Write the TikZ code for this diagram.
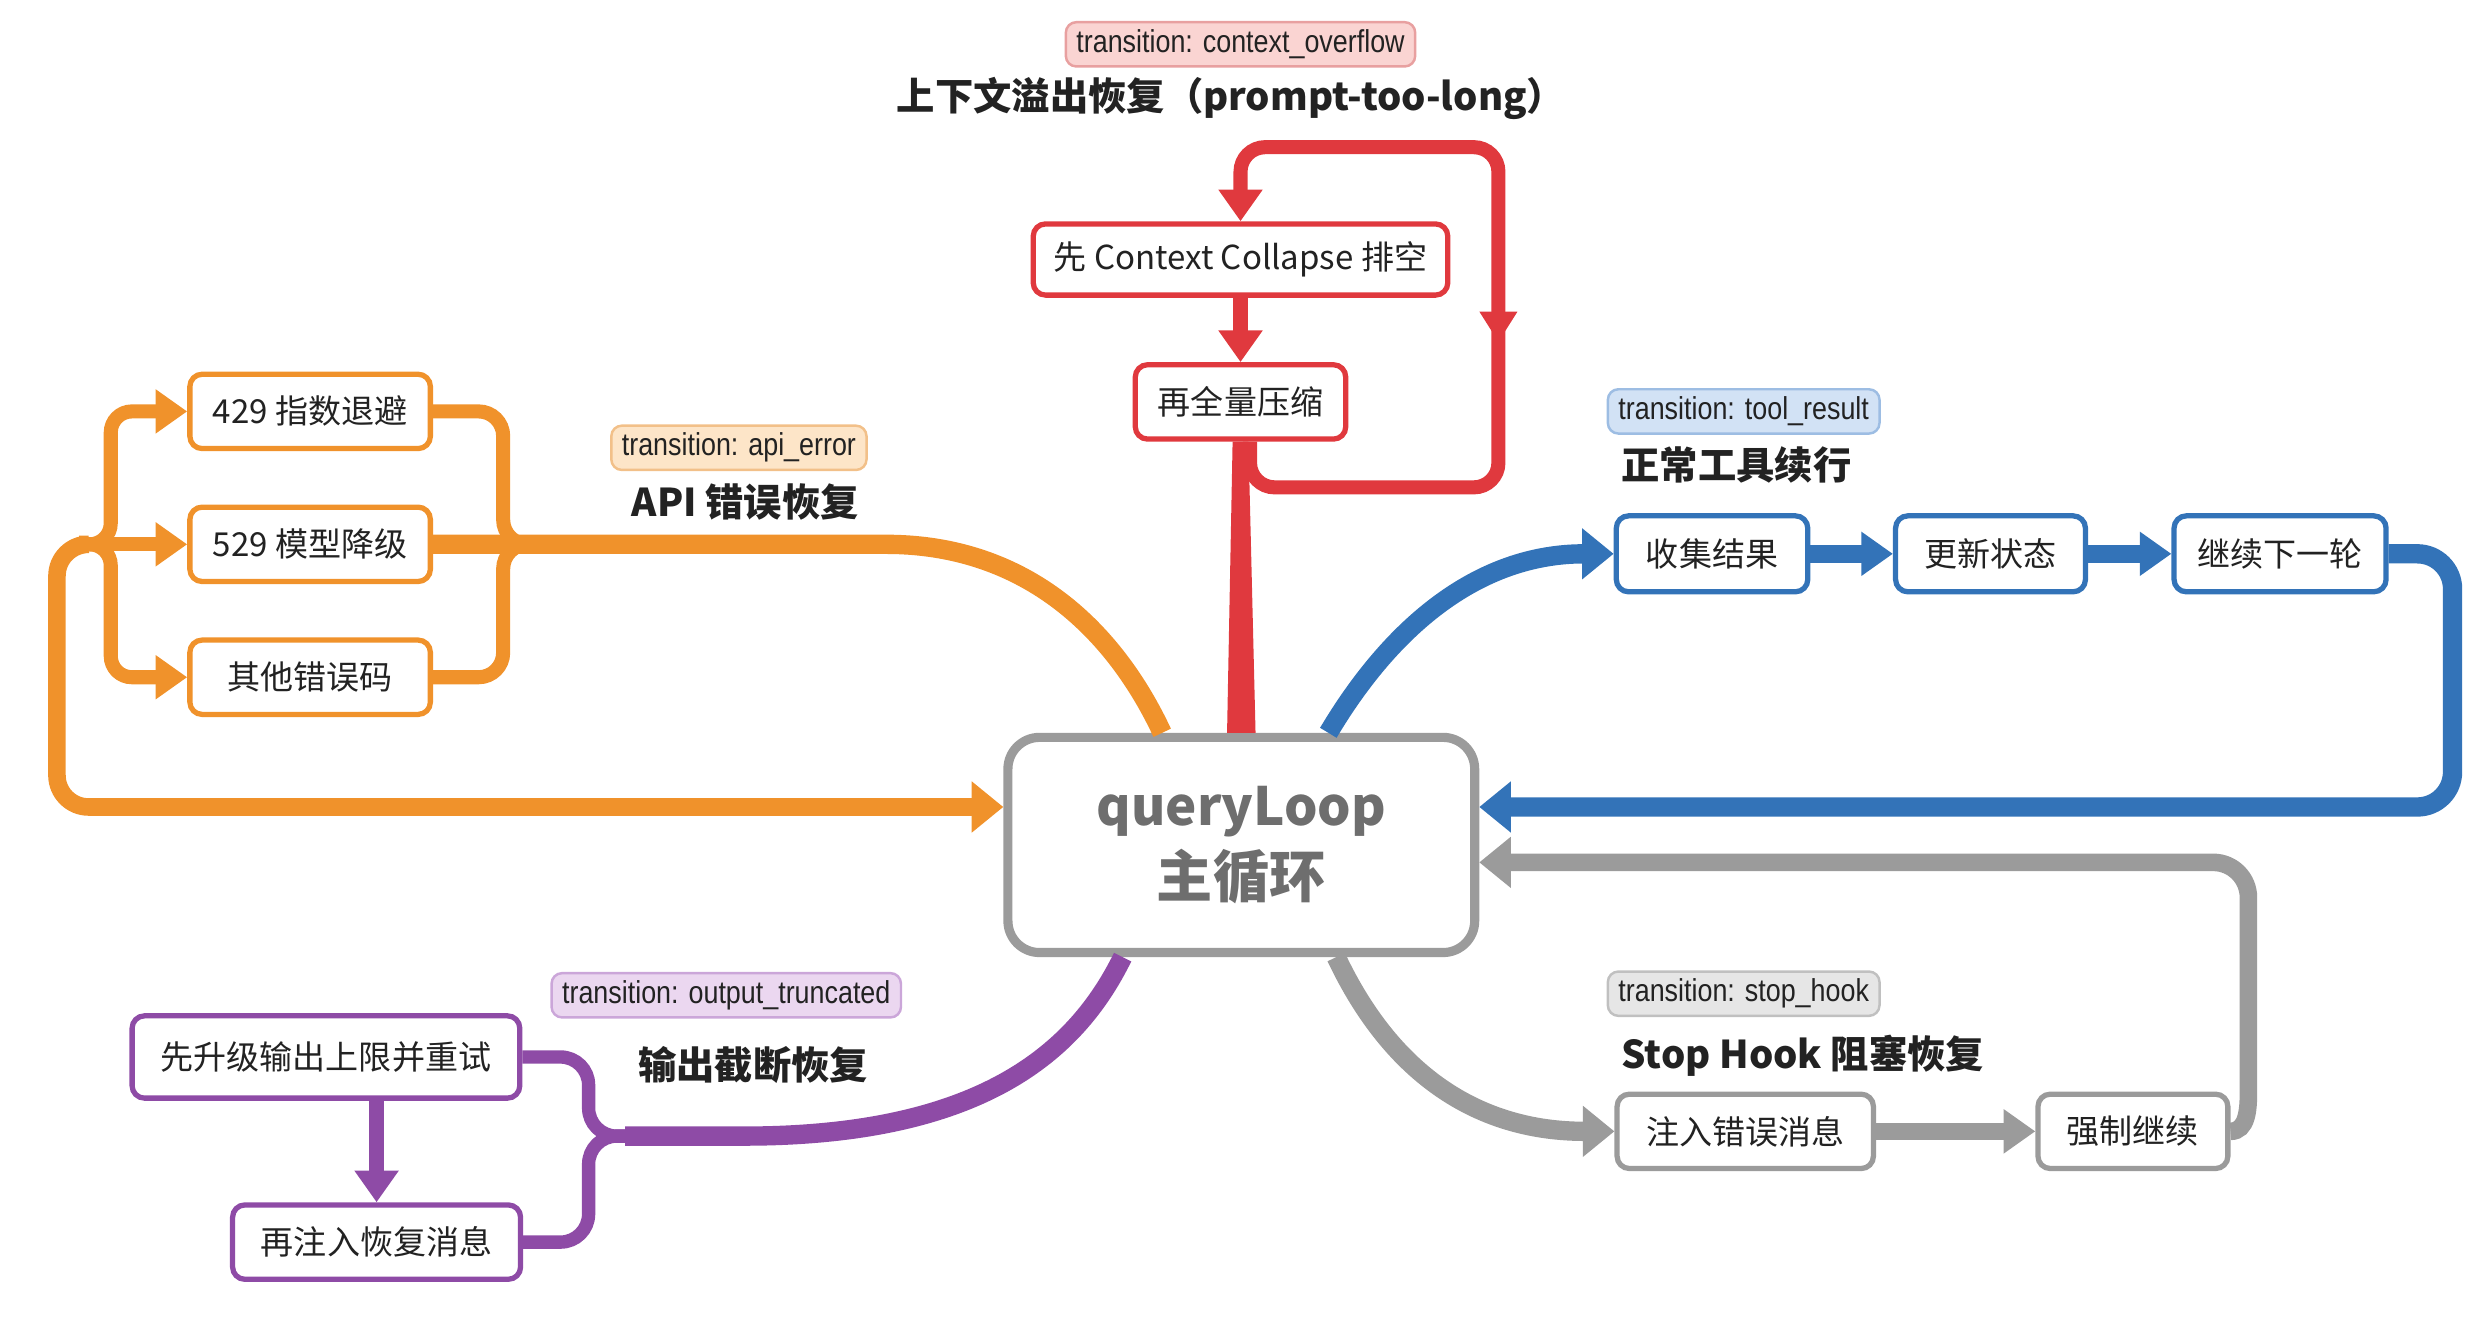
\documentclass[tikz,border=0pt]{standalone}
\usepackage{fontspec}
\setmainfont{Noto Sans CJK SC}
\newfontfamily\tagfont[FakeStretch=0.85]{Liberation Sans}
\usetikzlibrary{arrows.meta,calc}
\definecolor{txt}{HTML}{222222}
\definecolor{ctrtxt}{HTML}{6E6E6E}
\definecolor{cRed}{HTML}{E0393E}
\definecolor{cOrange}{HTML}{F0922B}
\definecolor{cBlue}{HTML}{3373B8}
\definecolor{cGray}{HTML}{9B9B9B}
\definecolor{cPurple}{HTML}{8E4BA6}
\definecolor{rTag}{HTML}{FAD4D2}\definecolor{rTagD}{HTML}{E8A0A0}
\definecolor{oTag}{HTML}{FDE5C8}\definecolor{oTagD}{HTML}{F2C089}
\definecolor{bTag}{HTML}{D2E2F5}\definecolor{bTagD}{HTML}{9DBDE3}
\definecolor{gTag}{HTML}{E6E6E6}\definecolor{gTagD}{HTML}{C0C0C0}
\definecolor{pTag}{HTML}{EBD7F0}\definecolor{pTagD}{HTML}{CBA6D9}
\def\unitpx{0.015823cm}
\begin{document}
\begin{tikzpicture}[x=\unitpx,y=-\unitpx,
  box/.style={draw=#1,fill=white,line width=1.5pt,rounded corners=3.5pt,
    inner sep=0pt,minimum height=47*\unitpx,text=txt,
    font=\fontsize{9.4}{11}\selectfont},
  tagbox/.style 2 args={draw=#1,fill=#2,line width=.7pt,rounded corners=3pt,
    inner xsep=3pt,inner ysep=0pt,minimum height=28*\unitpx,text=txt,
    font=\tagfont\fontsize{9}{10}\selectfont},
  ttl/.style={text=txt,font=\bfseries\fontsize{10.9}{13}\selectfont},
  br/.style={draw=#1,line width=5.5pt},
  arr/.style={-{Triangle[length=9pt,width=12pt]}},
  bigarr/.style={-{Triangle[length=9pt,width=14pt]}}]
\useasboundingbox (0,0) rectangle (1568,846);
% queryLoop
\node[draw=cGray,fill=white,line width=2.6pt,rounded corners=9pt,
  minimum width=295*\unitpx,minimum height=136*\unitpx,align=center,
  text=ctrtxt,font=\bfseries\fontsize{16}{20.5}\selectfont]
  (ctr) at (784.5,534) {{\fontsize{15}{20.5}\selectfont queryLoop}\\主循环};
% context_overflow
\node[tagbox={rTagD}{rTag}] (rtag) at (784,28) {transition: context\_overflow};
\node[ttl] (rttl) at (778,62) {上下文溢出恢复（prompt-too-long）};
\node[box=cRed,minimum width=262*\unitpx,minimum height=45*\unitpx] (rcc) at (784,164) {先 Context Collapse 排空};
\node[box=cRed,minimum width=133*\unitpx] (rzip) at (784,254) {再全量压缩};
\fill[cRed] ([xshift=-9*\unitpx]ctr.north) -- ([xshift=9*\unitpx]ctr.north)
  -- ([xshift=5*\unitpx]rzip.south) -- ([xshift=-5*\unitpx]rzip.south) -- cycle;
\draw[br=cRed,line width=4.5pt,arr] (rcc) -- (rzip);
\draw[br=cRed,line width=4pt,rounded corners=7pt,arr] ([xshift=6*\unitpx]rzip.south)
  |- (947,308) -- (947,93) -| (rcc.north);
\fill[cRed] (935,197) -- (959,197) -- (947,216) -- cycle;
% api_error
\node[tagbox={oTagD}{oTag}] (otag) at (467,283) {transition: api\_error};
\node[ttl] (ottl) at (471,317) {API 错误恢复};
\node[box=cOrange,minimum width=152*\unitpx] (o429) at (196,260) {429 指数退避};
\node[box=cOrange,minimum width=152*\unitpx] (o529) at (196,344) {529 模型降级};
\node[box=cOrange,minimum width=152*\unitpx] (oerr) at (196,428) {其他错误码};
\coordinate (omerge) at (345,344);
\coordinate (osplit) at (50,344);
\draw[br=cOrange] (o529.east) -- (560,344) .. controls (650,344) and (705,400) .. ($(ctr.north)+(-50,0)$);
\draw[br=cOrange,line width=4pt,rounded corners=7pt] (o429.east) -| (318,344) -- (omerge);
\draw[br=cOrange,line width=4pt,rounded corners=7pt] (oerr.east) -| (318,344) -- (omerge);
\draw[br=cOrange,line width=4pt,arr] (osplit) -- (o529.west);
\draw[br=cOrange,line width=4pt,rounded corners=6pt,arr] (osplit) -| (70,300) |- (o429.west);
\draw[br=cOrange,line width=4pt,rounded corners=6pt,arr] (osplit) -| (70,390) |- (oerr.west);
\draw[br=cOrange,line width=5pt,rounded corners=9pt,bigarr] (osplit) -| (36,420) |- ($(ctr.west)+(0,-24)$);
% tool_result
\node[tagbox={bTagD}{bTag}] (btag) at (1102,260) {transition: tool\_result};
\node[ttl,anchor=west] (bttl) at (1017,294) {正常工具续行};
\node[box=cBlue,minimum width=121*\unitpx,minimum height=48*\unitpx] (bcol) at (1082,350) {收集结果};
\node[box=cBlue,minimum width=120*\unitpx,minimum height=48*\unitpx] (bupd) at (1258,350) {更新状态};
\node[box=cBlue,minimum width=134*\unitpx,minimum height=48*\unitpx] (bnext) at (1441,350) {继续下一轮};
\draw[br=cBlue,bigarr] ($(ctr.north)+(55,0)$) .. controls (880,395) and (935,350) .. (bcol.west);
\draw[br=cBlue,line width=5pt,arr] (bcol) -- (bupd);
\draw[br=cBlue,line width=5pt,arr] (bupd) -- (bnext);
\draw[br=cBlue,line width=5.5pt,rounded corners=10pt,bigarr] (bnext.east) -| (1550,430) |- ($(ctr.east)+(0,-24)$);
% stop_hook
\node[tagbox={gTagD}{gTag}] (gtag) at (1102,628) {transition: stop\_hook};
\node[ttl,anchor=west] (gttl) at (1017,667) {Stop Hook 阻塞恢复};
\node[box=cGray,minimum width=162*\unitpx] (ginj) at (1103,715) {注入错误消息};
\node[box=cGray,minimum width=120*\unitpx] (gfor) at (1348,715) {强制继续};
\draw[br=cGray,bigarr] ($(ctr.south)+(60,0)$) .. controls (880,680) and (935,715) .. (ginj.west);
\draw[br=cGray,line width=5pt,arr] (ginj) -- (gfor);
\draw[br=cGray,line width=5pt,bigarr] (gfor.east) to[out=0,in=-90] (1421,690)
  [rounded corners=10pt] |- ($(ctr.east)+(0,11)$);
% output_truncated
\node[tagbox={pTagD}{pTag}] (ptag) at (459,629) {transition: output\_truncated};
\node[ttl] (pttl) at (476,673) {输出截断恢复};
\node[box=cPurple,minimum width=245*\unitpx,minimum height=52*\unitpx] (pup) at (206,668) {先升级输出上限并重试};
\node[box=cPurple,minimum width=182*\unitpx] (pinj) at (238,785) {再注入恢复消息};
\coordinate (pmerge) at (395,718);
\draw[br=cPurple,line width=3.8pt,rounded corners=8pt] (pup.east) -| (372,718) -- (pmerge);
\draw[br=cPurple,line width=3.8pt,rounded corners=8pt] (pinj.east) -| (372,718) -- (pmerge);
\draw[br=cPurple] (pmerge) -- (470,718) .. controls (620,718) and (680,665) .. ($(ctr.south)+(-75,0)$);
\draw[br=cPurple,line width=4.5pt,arr] (pinj.north |- pup.south) -- (pinj.north);
\end{tikzpicture}
\end{document}
